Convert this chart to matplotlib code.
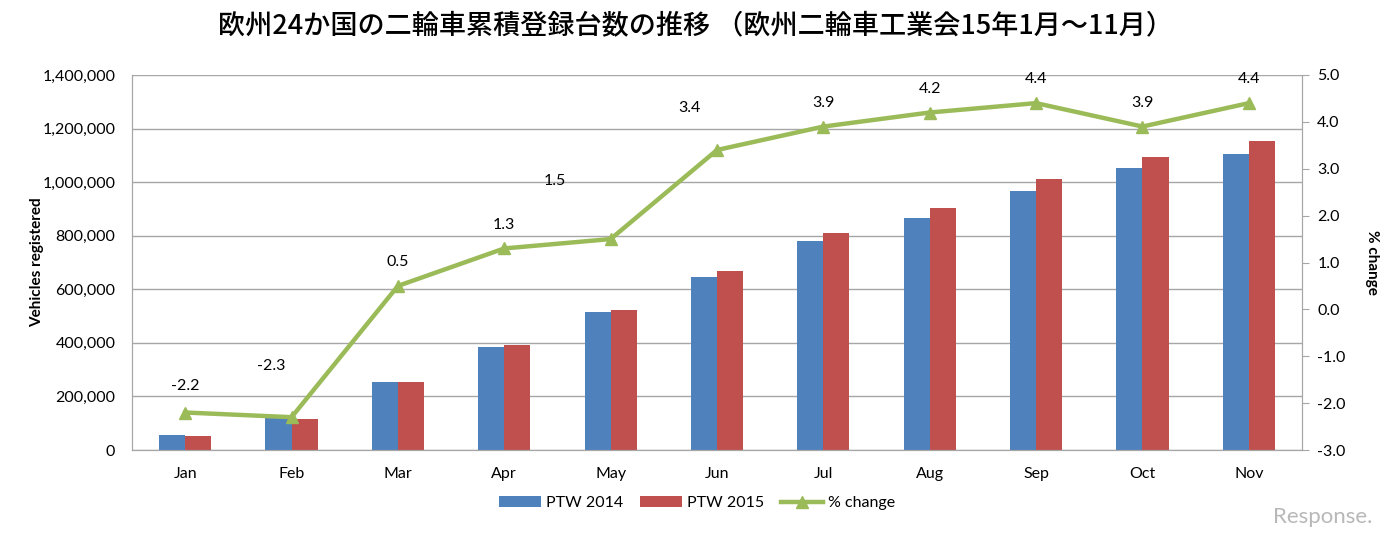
import matplotlib.pyplot as plt
import numpy as np

plt.rcParams['font.family'] = ['Lato', 'DejaVu Sans']

months = ["Jan", "Feb", "Mar", "Apr", "May", "Jun", "Jul", "Aug", "Sep", "Oct", "Nov"]
ptw_2014 = [55000, 119000, 253000, 385000, 515000, 646000, 780000, 866000, 967000, 1053000, 1105000]
ptw_2015 = [54000, 117000, 253000, 391000, 523000, 668000, 810000, 903000, 1012000, 1094000, 1154000]
pct_change = [-2.2, -2.3, 0.5, 1.3, 1.5, 3.4, 3.9, 4.2, 4.4, 3.9, 4.4]

# label offsets (points) copied from the Excel chart's odd label placement
label_dx = [0, -15, 0, 0, -40, -20, 0, 0, 0, 0, 0]
label_dy = [14, 32, 12, 12, 37, 25, 12, 12, 12, 12, 12]

blue = "#4F81BD"
red = "#C0504D"
green = "#9BBB59"
grid_col = "#A6A6A6"

fig = plt.figure(figsize=(13.85, 5.37), dpi=100)
ax = fig.add_axes([132 / 1385, 87 / 537, 1170 / 1385, 375 / 537])
ax2 = ax.twinx()

x = np.arange(len(months))
w = 0.245
ax.bar(x - w / 2, ptw_2014, w, color=blue, label="PTW 2014", zorder=2)
ax.bar(x + w / 2, ptw_2015, w, color=red, label="PTW 2015", zorder=2)

ax.set_xlim(-0.5, len(months) - 0.5)
ax.set_ylim(0, 1400000)
ax.set_yticks(np.arange(0, 1400001, 200000))
ax.set_yticklabels([f"{v:,}" for v in np.arange(0, 1400001, 200000)])
ax.yaxis.grid(True, color=grid_col, linewidth=1, zorder=0)
ax.set_axisbelow(True)
ax.set_xticks(x)
ax.set_xticklabels(months)
ax.tick_params(axis="x", length=0, pad=12, labelsize=11.5)
ax.tick_params(axis="y", length=0, pad=12, labelsize=11.5)
ax.set_ylabel("Vehicles registered", fontsize=11, fontweight="bold", labelpad=-1)

ax2.plot(x, pct_change, color=green, linewidth=3.2, marker="^", markersize=9, label="% change", zorder=3)
ax2.set_ylim(-3, 5)
ax2.set_yticks(np.arange(-3, 5.01, 1))
ax2.set_yticklabels([f"{v:.1f}" for v in np.arange(-3, 5.01, 1)])
ax2.tick_params(axis="y", length=5, color=grid_col, pad=6, labelsize=11.5)
ax2.set_ylabel("% change", fontsize=11, fontweight="bold", rotation=270, labelpad=24)

for i, v in enumerate(pct_change):
    ax2.annotate(f"{v:.1f}", (x[i], v), xytext=(label_dx[i], label_dy[i]),
                 textcoords="offset points", ha="center", va="bottom", fontsize=11.5)

for a in (ax, ax2):
    for s in a.spines.values():
        s.set_color(grid_col)
    a.spines["top"].set_visible(False)

h1, l1 = ax.get_legend_handles_labels()
h2, l2 = ax2.get_legend_handles_labels()
fig.legend(h1 + h2, l1 + l2, loc="center", bbox_to_anchor=(697 / 1385, 1 - 503 / 537),
           ncol=3, frameon=False, fontsize=11.5, handlelength=2.6, handletextpad=0.3,
           columnspacing=1.1)

fig.text(696 / 1385, 1 - 27 / 537, "欧州24か国の二輪車累積登録台数の推移 （欧州二輪車工業会15年1月～11月）",
         ha="center", va="center", fontsize=19.5, fontweight="medium",
         family=["Noto Sans CJK JP", "DejaVu Sans"])
fig.text(1372 / 1385, 1 - 517 / 537, "Response.", ha="right", va="center", fontsize=16,
         color="#B8B8B8")

fig.savefig("out.png", dpi=100)
